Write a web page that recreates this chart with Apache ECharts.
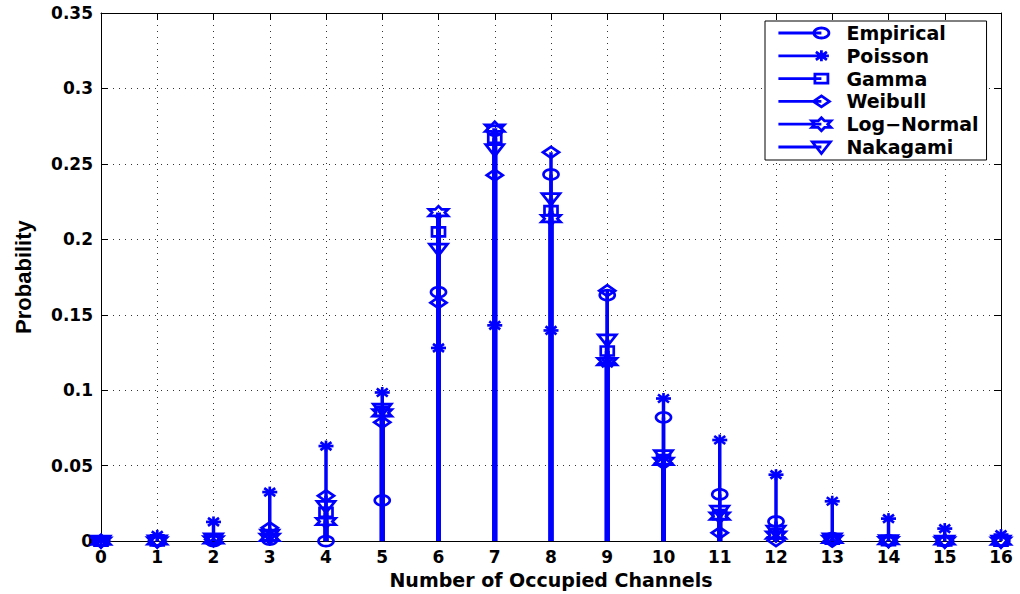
<!DOCTYPE html>
<html>
<head>
<meta charset="utf-8">
<script src="https://cdn.jsdelivr.net/npm/echarts@6/dist/echarts.min.js"></script>
<style>
  html, body { margin: 0; padding: 0; background: #fff; }
  #chart { width: 1020px; height: 594px; }
</style>
</head>
<body>
<div id="chart"></div>
<script>
// ---------- data ----------
const channels = [0,1,2,3,4,5,6,7,8,9,10,11,12,13,14,15,16];
const seriesNames = ['Empirical','Poisson','Gamma','Weibull','Log\u2212Normal','Nakagami'];
const empirical = [0,0,0,0.001,0,0.027,0.165,0.272,0.243,0.163,0.082,0.031,0.013,0.002,0.0005,0,0];
const poisson   = [0.0005,0.0038,0.0127,0.0325,0.063,0.0985,0.128,0.143,0.1396,0.118,0.0945,0.067,0.044,0.0264,0.0149,0.0083,0.0043];
const gamma     = [0,0.0002,0.0015,0.0035,0.019,0.086,0.205,0.267,0.219,0.126,0.054,0.0176,0.005,0.0013,0.0003,0.0001,0];
const weibull   = [0,0.0001,0.001,0.0088,0.030,0.0787,0.158,0.2425,0.2577,0.166,0.0517,0.0055,0.0004,0,0,0,0];
const lognormal = [0,0.0001,0.0008,0.0025,0.013,0.085,0.2177,0.2737,0.2137,0.119,0.0528,0.0165,0.004,0.0012,0.0003,0.0001,0];
const nakagami  = [0,0.0002,0.0015,0.004,0.023,0.0875,0.1935,0.2594,0.227,0.1334,0.0567,0.0198,0.0066,0.0015,0.0003,0,0];
const yTicks = [0,0.05,0.1,0.15,0.2,0.25,0.3,0.35];

// ---------- styling ----------
const BLUE = '#0000ff';
const markerKinds = ['circle','asterisk','square','diamond','hexagram','triangle'];
const stemWidths = [3.5,3.5,5,3.5,5,5];
const allValues = [empirical, poisson, gamma, weibull, lognormal, nakagami];

function markerParts(kind) {
  const parts = [];
  if (kind === 'circle') {
    const pts = [];
    for (let i = 0; i < 32; i++) { const a = i / 32 * Math.PI * 2; pts.push([7.5 * Math.cos(a), 5 * Math.sin(a)]); }
    parts.push({ pts, closed: true });
  } else if (kind === 'asterisk') {
    parts.push({ pts: [[-7.5,0],[7.5,0]], closed: false });
    parts.push({ pts: [[0,-5.5],[0,5.5]], closed: false });
    parts.push({ pts: [[-5.5,-4],[5.5,4]], closed: false });
    parts.push({ pts: [[-5.5,4],[5.5,-4]], closed: false });
  } else if (kind === 'square') {
    parts.push({ pts: [[-6.5,-4.5],[6.5,-4.5],[6.5,4.5],[-6.5,4.5]], closed: true });
  } else if (kind === 'diamond') {
    parts.push({ pts: [[0,-5.5],[8,0],[0,5.5],[-8,0]], closed: true });
  } else if (kind === 'hexagram') {
    const pts = [];
    for (let i = 0; i < 12; i++) {
      const a = (-90 + i * 30) * Math.PI / 180;
      const r = (i % 2 === 0) ? 1 : 1 / Math.sqrt(3);
      pts.push([11 * r * Math.cos(a), 6.5 * r * Math.sin(a)]);
    }
    parts.push({ pts, closed: true });
  } else if (kind === 'triangle') {
    parts.push({ pts: [[-9,-5],[9,-5],[0,6.5]], closed: true });
  }
  return parts;
}

function markerElements(kind, cx, cy) {
  return markerParts(kind).map(p => ({
    type: p.closed ? 'polygon' : 'polyline',
    shape: { points: p.pts.map(q => [cx + q[0], cy + q[1]]) },
    style: { fill: null, stroke: BLUE, lineWidth: 2.7 },
    z2: 10
  }));
}

function legendIconPath(kind) {
  const W = 63, H = 14, cx = 43, cy = 7;
  let d = 'M0,0M' + W + ',' + H + 'M0,' + cy + 'L' + cx + ',' + cy;
  markerParts(kind).forEach(p => {
    p.pts.forEach((q, i) => { d += (i === 0 ? 'M' : 'L') + (cx + q[0]).toFixed(2) + ',' + (cy + q[1]).toFixed(2); });
    if (p.closed) d += 'Z';
  });
  return 'path://' + d;
}

const series = seriesNames.map((name, si) => ({
  name,
  type: 'custom',
  coordinateSystem: 'cartesian2d',
  clip: false,
  itemStyle: { color: BLUE },
  data: channels.map((c, i) => [c, allValues[si][i]]),
  renderItem: function (params, api) {
    const x = api.value(0), y = api.value(1);
    const p0 = api.coord([x, 0]);
    const p1 = api.coord([x, y]);
    return {
      type: 'group',
      children: [
        { type: 'line', shape: { x1: p0[0], y1: p0[1], x2: p1[0], y2: p1[1] },
          style: { stroke: BLUE, lineWidth: stemWidths[si] }, z2: 1 }
      ].concat(markerElements(markerKinds[si], p1[0], p1[1]))
    };
  }
}));

const TICK_FONT = { fontFamily: 'DejaVu Sans', fontWeight: 'bold', fontSize: 17, color: '#000' };
const dotted = { color: '#333', width: 1, type: [1, 5] };

const chart = echarts.init(document.getElementById('chart'), null, { renderer: 'svg' });
chart.setOption({
  backgroundColor: '#fff',
  animation: false,
  grid: { left: 101, right: 19, top: 13, bottom: 51 },
  xAxis: [
    {
      type: 'value', min: 0, max: 16, interval: 1, position: 'bottom',
      name: 'Number of Occupied Channels', nameLocation: 'middle', nameGap: 26,
      nameTextStyle: { fontFamily: 'DejaVu Sans', fontWeight: 'bold', fontSize: 19, color: '#000' },
      axisLine: { show: true, onZero: false, lineStyle: { color: '#000', width: 1 } },
      axisTick: { show: true, inside: true, length: 7, lineStyle: { color: '#000' } },
      axisLabel: Object.assign({ margin: 7 }, TICK_FONT),
      splitLine: { show: true, lineStyle: dotted }
    },
    {
      type: 'value', min: 0, max: 16, interval: 1, position: 'top',
      axisLine: { show: true, onZero: false, lineStyle: { color: '#000', width: 1 } },
      axisTick: { show: true, inside: true, length: 7, lineStyle: { color: '#000' } },
      axisLabel: { show: false }, splitLine: { show: false }
    }
  ],
  yAxis: [
    {
      type: 'value', min: yTicks[0], max: yTicks[yTicks.length - 1], interval: 0.05, position: 'left',
      name: 'Probability', nameLocation: 'middle', nameGap: 67,
      nameTextStyle: { fontFamily: 'Liberation Sans', fontWeight: 'bold', fontSize: 22, color: '#000' },
      axisLine: { show: true, onZero: false, lineStyle: { color: '#000', width: 1 } },
      axisTick: { show: true, inside: true, length: 7, lineStyle: { color: '#000' } },
      axisLabel: Object.assign({ margin: 8 }, TICK_FONT),
      splitLine: { show: true, lineStyle: dotted }
    },
    {
      type: 'value', min: yTicks[0], max: yTicks[yTicks.length - 1], interval: 0.05, position: 'right',
      axisLine: { show: true, onZero: false, lineStyle: { color: '#000', width: 1 } },
      axisTick: { show: true, inside: true, length: 7, lineStyle: { color: '#000' } },
      axisLabel: { show: false }, splitLine: { show: false }
    }
  ],
  legend: {
    orient: 'vertical',
    left: 765, top: 21,
    padding: [2, 8, 3, 12],
    backgroundColor: '#fff',
    borderColor: '#000', borderWidth: 1,
    itemWidth: 63, itemHeight: 14, itemGap: 2.8,
    symbolKeepAspect: true,
    selectedMode: false,
    itemStyle: { color: 'rgba(255,255,255,0)', borderColor: BLUE, borderWidth: 2.8 },
    textStyle: { fontFamily: 'DejaVu Sans', fontWeight: 'bold', fontSize: 19, lineHeight: 20, color: '#000', padding: [0,0,0,0] },
    data: seriesNames.map((n, i) => ({ name: n, icon: legendIconPath(markerKinds[i]) }))
  },
  series
});
</script>
</body>
</html>
